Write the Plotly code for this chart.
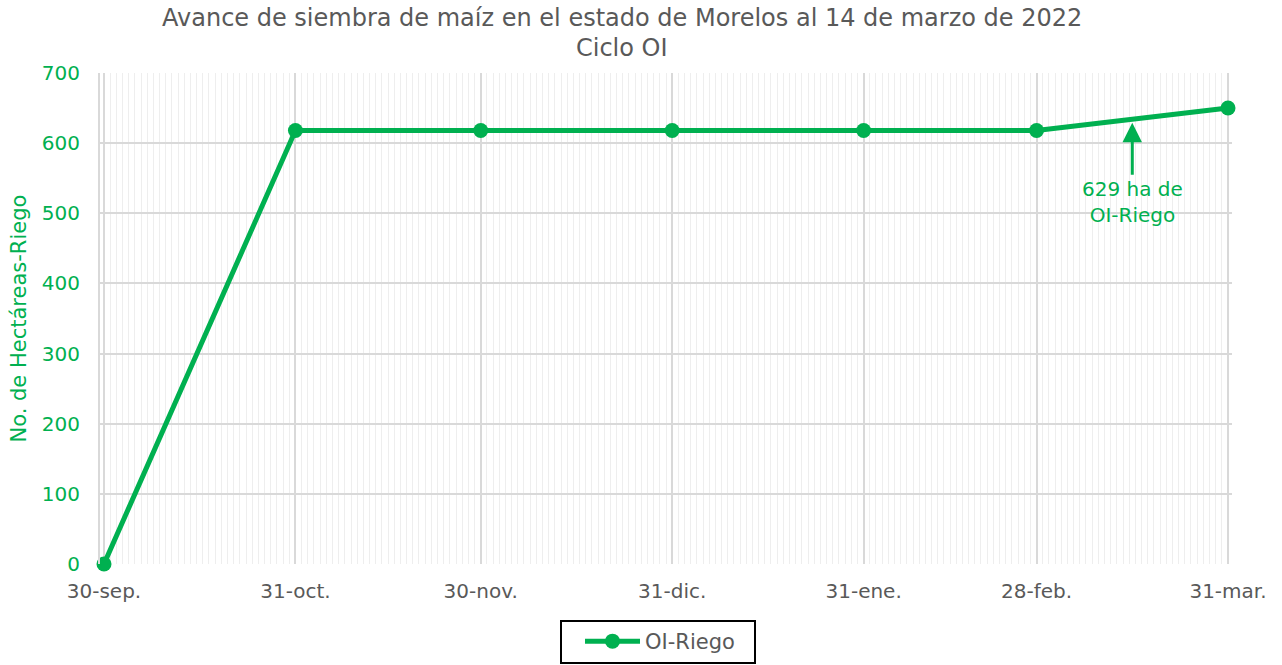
import plotly.graph_objects as go

dates = ["2021-09-30", "2021-10-31", "2021-11-30", "2021-12-31", "2022-01-31", "2022-02-28", "2022-03-31"]
tick_labels = ["30-sep.", "31-oct.", "30-nov.", "31-dic.", "31-ene.", "28-feb.", "31-mar."]
riego = [0, 618, 618, 618, 618, 618, 650]
series_name = "OI-Riego"
annot_date = "2022-03-15 12:00"
annot_value = 629
annot_text = "629 ha de<br>OI-Riego"
title_line1 = "Avance de siembra de maíz en el estado de Morelos al 14 de marzo de 2022"
title_line2 = "Ciclo OI"
y_title = "No. de Hectáreas-Riego"

GREEN = "#00B050"
GRAY = "#595959"
FONT = "DejaVu Sans"

L, R, T, B = 100, 50, 73, 101
W, H = 1282, 665
PW = W - L - R
PH = H - T - B


def px_x(p):
    return (p - L) / PW


def px_y(p):
    return (H - B - p) / PH


fig = go.Figure()
fig.add_trace(go.Scatter(
    x=dates, y=riego, name=series_name, mode="lines+markers",
    line=dict(color=GREEN, width=5),
    marker=dict(color=GREEN, size=15),
    cliponaxis=False,
))

fig.add_annotation(
    x=annot_date, y=annot_value, xref="x", yref="y",
    text=annot_text, showarrow=True, arrowhead=2, arrowsize=1.3, arrowwidth=3,
    arrowcolor=GREEN, ax=0, ay=52, font=dict(color=GREEN, size=20, family=FONT),
    yanchor="top",
)

for txt, yc in ((title_line1, 18), (title_line2, 48)):
    fig.add_annotation(
        text=txt, xref="paper", yref="paper",
        x=px_x(622), y=px_y(yc), xanchor="center", yanchor="middle",
        showarrow=False, font=dict(family=FONT, size=24, color=GRAY),
    )

fig.add_annotation(
    text=y_title, xref="paper", yref="paper", textangle=-90,
    x=px_x(18), y=0.5, xanchor="center", yanchor="middle",
    showarrow=False, font=dict(family=FONT, size=21, color=GREEN),
)

# legend frame
fig.add_shape(
    type="rect", xref="paper", yref="paper",
    x0=px_x(561), x1=px_x(755), y0=px_y(663), y1=px_y(621),
    line=dict(color="black", width=2), fillcolor="rgba(0,0,0,0)",
)

fig.update_layout(
    width=W, height=H,
    paper_bgcolor="white", plot_bgcolor="white",
    margin=dict(l=L, r=R, t=T, b=B, autoexpand=False),
    font=dict(family=FONT),
    showlegend=True,
    legend=dict(
        orientation="h", x=px_x(580), xanchor="left", y=px_y(621), yanchor="top",
        borderwidth=0, bgcolor="rgba(0,0,0,0)", font=dict(size=21, color=GRAY),
        itemwidth=55,
    ),
    xaxis=dict(
        type="date",
        range=["2021-09-29 08:27", "2022-03-31 15:33"],
        tickmode="array", tickvals=dates, ticktext=tick_labels,
        tickfont=dict(size=20, color=GRAY, family=FONT),
        showgrid=True, gridcolor="#d9d9d9", gridwidth=2,
        minor=dict(dtick=86400000, tick0="2021-09-30", showgrid=True, gridcolor="#eeeeee", gridwidth=1),
        showline=False, zeroline=False, automargin=False,
        ticklabelstandoff=13,
    ),
    yaxis=dict(
        range=[0, 700], dtick=100,
        tickfont=dict(size=20, color=GREEN, family=FONT),
        showgrid=True, gridcolor="#d9d9d9", gridwidth=2,
        showline=True, linecolor="#d9d9d9", linewidth=2,
        zeroline=False, automargin=False,
        ticklabelstandoff=14,
    ),
)

fig.write_html(
    "out.html",
    config={"displayModeBar": False},
    post_script="document.body.style.margin='0';",
)
